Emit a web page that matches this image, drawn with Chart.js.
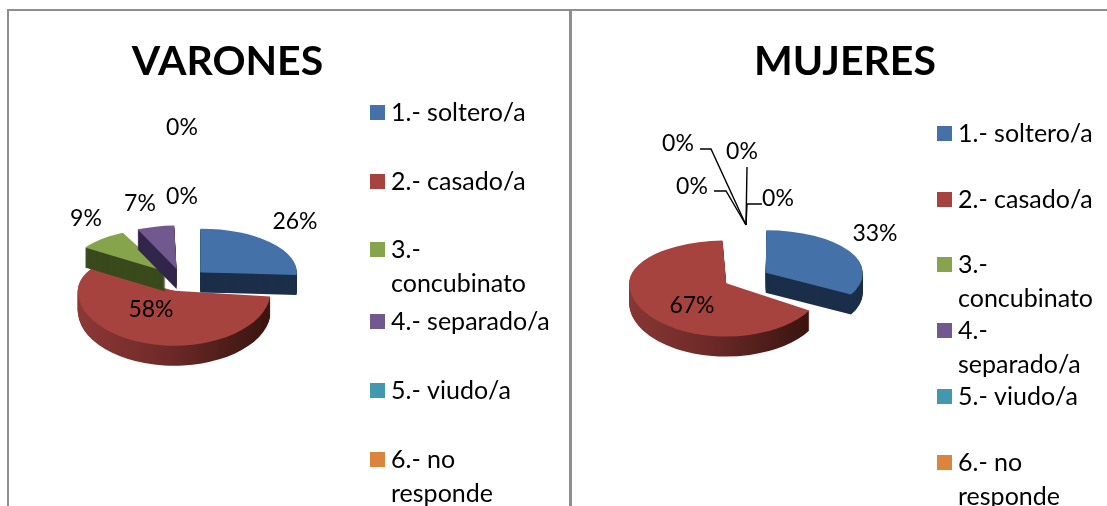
<!DOCTYPE html>
<html><head><meta charset="utf-8">
<style>
html,body{margin:0;padding:0;background:#fff;overflow:hidden}
#page{position:relative;width:1107px;height:506px}
canvas{position:absolute;top:0}
.rule{position:absolute;background:#8e8e8e}
</style>
<script src="https://cdn.jsdelivr.net/npm/chart.js@4/dist/chart.umd.min.js"></script>
</head><body>
<div id="page">
<div class="rule" style="left:7px;top:9px;width:1100px;height:2px"></div>
<div class="rule" style="left:7px;top:9px;width:2px;height:497px"></div>
<div class="rule" style="left:569px;top:9px;width:3px;height:497px"></div>
<canvas id="left" style="left:0"></canvas>
<canvas id="right" style="left:572px"></canvas>
</div>
<script>
const categories = ['1.- soltero/a','2.- casado/a','3.- concubinato','4.- separado/a','5.- viudo/a','6.- no responde'];
const varonesValues = [26,58,9,7,0,0];
const mujeresValues = [33,67,0,0,0,0];
const varonesLegend = [['1.- soltero/a'],['2.- casado/a'],['3.-','concubinato'],['4.- separado/a'],['5.- viudo/a'],['6.- no','responde']];
const mujeresLegend = [['1.- soltero/a'],['2.- casado/a'],['3.-','concubinato'],['4.-','separado/a'],['5.- viudo/a'],['6.- no','responde']];
const topColors  = ['#4472a8','#a6433f','#86a44c','#71588f','#4198af','#db843d'];
const sideColors = ['#1b2f4a',null,'#3a4a1c','#33264b','#1f4f5c','#6f4115'];
const drawOrder  = [1,2,3,0,4,5];
const FONT = 'Lato, "Open Sans", sans-serif';

function pie3d(cfg){
  return {
    id:'pie3d',
    beforeDatasetDraw(chart){
      const ctx = chart.ctx, els = chart.getDatasetMeta(0).data;
      for (const i of drawOrder){
        const el = els[i];
        if (!el || el.circumference === 0) continue;
        const o = el.options, off = (o.offset||0)/4;
        const mid = (el.startAngle+el.endAngle)/2;
        const ax = el.x + Math.cos(mid)*off, ay = el.y + Math.sin(mid)*off;
        const Ax = cfg.cx + Math.cos(mid)*off, Ay = cfg.cy + Math.sin(mid)*off*cfg.back;
        const kf = cfg.front[i];
        const R = el.outerRadius;
        // the arc element widens a slice by offset*fix when it is exploded: cancel that
        const fix = 1 - Math.sin(Math.min(Math.PI, el.circumference));
        const pass = (dy, color) => {
          el.options = Object.assign({}, o, {backgroundColor:color, borderWidth:0});
          el.outerRadius = R - off*fix;
          ctx.save();
          ctx.beginPath(); ctx.rect(0,0,chart.width,Ay+dy+0.4); ctx.clip();
          ctx.translate(Ax,Ay+dy); ctx.scale(1,cfg.back); ctx.translate(-ax,-ay);
          el.draw(ctx);
          ctx.restore();
          ctx.save();
          ctx.beginPath(); ctx.rect(0,Ay+dy-0.4,chart.width,chart.height); ctx.clip();
          ctx.translate(Ax,Ay+dy); ctx.scale(1,kf); ctx.translate(-ax,-ay);
          el.draw(ctx);
          ctx.restore();
          el.options = o;
          el.outerRadius = R;
        };
        let side = sideColors[i];
        if (!side){
          side = ctx.createLinearGradient(ax-R,0,ax+R,0);
          side.addColorStop(0,'#8e3a38');
          side.addColorStop(0.5,'#6e2a28');
          side.addColorStop(1,'#3c1511');
        }
        for (let d = cfg.depth; d >= 1; d--) pass(d, side);
        pass(0, o.backgroundColor);
      }
      return false;
    },
    afterDraw(chart){
      const ctx = chart.ctx;
      ctx.save();
      ctx.strokeStyle = '#000'; ctx.lineWidth = 1.4;
      for (const ln of cfg.leaders){
        ctx.beginPath();
        ln.forEach((p,i)=> i ? ctx.lineTo(p[0],p[1]) : ctx.moveTo(p[0],p[1]));
        ctx.stroke();
      }
      ctx.fillStyle = '#000'; ctx.textAlign = 'center'; ctx.textBaseline = 'middle';
      ctx.font = cfg.labelSize+'px '+FONT;
      cfg.values.forEach((v,i)=>{
        const p = cfg.labelPos[i];
        ctx.fillText(v+'%',p[0],p[1]);
      });
      ctx.textAlign = 'left';
      ctx.font = cfg.legendSize+'px '+FONT;
      cfg.legend.forEach((lines,i)=>{
        const y = cfg.legendY[i];
        ctx.fillStyle = topColors[i];
        ctx.fillRect(cfg.legendX, y-8, 15, 15);
        ctx.fillStyle = '#000';
        lines.forEach((t,j)=> ctx.fillText(t, cfg.legendX+21, y + j*cfg.legendLine));
      });
      ctx.restore();
    }
  };
}

function build(id, width, title, values, padL, padR, cfg){
  const el = document.getElementById(id);
  el.width = width; el.height = 506;
  el.style.width = width+'px'; el.style.height = '506px';
  cfg.values = values;
  return new Chart(el,{
    type:'pie',
    data:{labels:categories,datasets:[{
      data:values, backgroundColor:topColors, borderWidth:0, offset:cfg.explode*4
    }]},
    options:{
      responsive:false, animation:false, radius:cfg.radius, rotation:0,
      layout:{padding:{left:padL,right:padR,top:0,bottom:0}},
      plugins:{
        legend:{display:false}, tooltip:{enabled:false},
        title:{display:true,text:title,color:'#000',
          font:{family:FONT,size:41,weight:'bold',lineHeight:1.2},
          padding:{top:37,bottom:10}}
      }
    },
    plugins:[pie3d(cfg)]
  });
}

build('left',569,'VARONES',varonesValues,0,114,{
  cx:182, cy:280, radius:96.5, explode:25, back:0.45, front:[0.45,0.57,0.45,0.45,0.45,0.45], depth:20,
  labelSize:23, legendSize:25, legendX:370, legendLine:34,
  legend:varonesLegend, legendY:[113,182,250,322,391,460],
  labelPos:[[295,222],[151,310],[86,219],[140,204],[182,197],[182,128]],
  leaders:[]
});
build('right',535,'MUJERES',mujeresValues,11,0,{
  cx:174, cy:278, radius:97, explode:23, back:0.44, front:[0.47,0.55,0.45,0.45,0.45,0.45], depth:20,
  labelSize:23, legendSize:25, legendX:365, legendLine:34,
  legend:mujeresLegend, legendY:[134,200,265,331,397,463],
  labelPos:[[303,234],[120,306],[120,187],[206,199],[170,152],[106,144]],
  leaders:[
    [[128,149],[139,149],[174,225]],
    [[142,191],[154,191],[174,225]],
    [[175,167],[174,225]],
    [[190,204],[175,204],[174,225]]
  ]
});
</script>
</body></html>
